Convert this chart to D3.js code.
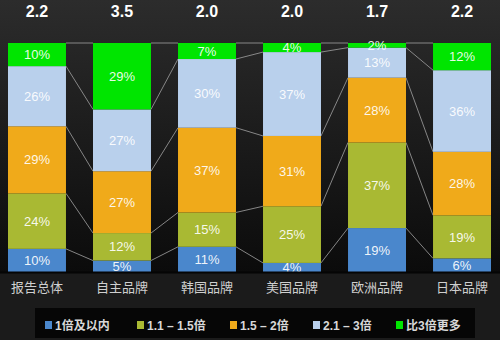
<!DOCTYPE html>
<html><head><meta charset="utf-8">
<script src="https://cdn.jsdelivr.net/npm/d3@7/dist/d3.min.js"></script>
<style>html,body{margin:0;padding:0;background:#1b1b1b}svg{display:block}</style>
</head><body><svg id="c" width="500" height="340"></svg>
<script>
const categories = ["报告总体","自主品牌","韩国品牌","美国品牌","欧洲品牌","日本品牌"];
const topLabels = ["2.2","3.5","2.0","2.0","1.7","2.2"];
const seriesNames = ["1倍及以内","1.1 – 1.5倍","1.5 – 2倍","2.1 – 3倍","比3倍更多"];
const s1 = [10,5,11,4,19,6];
const s2 = [24,12,15,25,37,19];
const s3 = [29,27,37,31,28,28];
const s4 = [26,27,30,37,13,36];
const s5 = [10,29,7,4,2,12];
const colors = ["#4a87cc","#a9b933","#f0aa1a","#b9d0ec","#00e500"];
const series = [s1,s2,s3,s4,s5];

const svg = d3.select("#c");
const defs = svg.append("defs");
const g1 = defs.append("linearGradient").attr("id","bg").attr("x1",0).attr("x2",0).attr("y1",0).attr("y2",1);
g1.append("stop").attr("offset","0%").attr("stop-color","#2c2c2c");
g1.append("stop").attr("offset","100%").attr("stop-color","#0b0b0b");
svg.append("rect").attr("width",500).attr("height",340).attr("fill","#1b1b1b");
svg.append("rect").attr("width",500).attr("height",273).attr("fill","url(#bg)");

const x = d3.scaleBand().domain(categories).range([-0.5,499.5]).paddingInner(0.318).paddingOuter(0.1);
const y = d3.scaleLinear().domain([0,100]).range([272,43]);

// stacked data normalized
const stacks = categories.map((c,i)=>{
  const vals = series.map(s=>s[i]);
  const tot = d3.sum(vals);
  let acc = 0;
  return vals.map((v,k)=>{ const y0=acc; acc+=v*100/tot; return {cat:c,k,v,y0,y1:acc}; });
});

// connecting lines
const lines = svg.append("g").attr("stroke","#9a9a9a").attr("stroke-width",1).attr("opacity",0.85);
for(let i=0;i<categories.length-1;i++){
  for(let k=0;k<series.length;k++){
    const a = stacks[i][k].y1, b = stacks[i+1][k].y1;
    lines.append("line")
      .attr("x1",x(categories[i])+x.bandwidth()).attr("y1",y(a))
      .attr("x2",x(categories[i+1])).attr("y2",y(b));
  }
}

const bars = svg.append("g");
stacks.forEach(st=>{
  st.forEach(d=>{
    bars.append("rect").attr("x",x(d.cat)).attr("width",x.bandwidth())
      .attr("y",y(d.y1)).attr("height",y(d.y0)-y(d.y1)).attr("fill",colors[d.k]);
    bars.append("text").attr("x",x(d.cat)+x.bandwidth()/2).attr("y",(y(d.y0)+y(d.y1))/2)
      .attr("dy","0.36em").attr("text-anchor","middle")
      .attr("font-family","Liberation Sans, Arial, sans-serif").attr("font-size",13)
      .attr("fill","#ffffff").attr("fill-opacity",0.92).text(d.v+"%");
  });
});

// top labels
svg.append("g").selectAll("text").data(categories).join("text")
  .attr("x",d=>x(d)+x.bandwidth()/2).attr("y",17).attr("text-anchor","middle")
  .attr("font-family","Liberation Sans, Arial, sans-serif").attr("font-weight","bold").attr("font-size",16)
  .attr("fill","#ffffff").text((d,i)=>topLabels[i]);

// category axis
const xAxis = d3.axisBottom(x).tickSize(0).tickPadding(0);
const ax = svg.append("g").attr("transform","translate(0,272)").call(xAxis);
ax.select(".domain").attr("stroke","#050505").attr("stroke-width",2);
ax.selectAll("text").attr("dy","1.55em").attr("font-size",13)
  .attr("font-family","Noto Sans CJK SC, sans-serif").attr("fill","#cfcfcf");

// legend
svg.append("rect").attr("x",35).attr("y",308).attr("width",440).attr("height",30).attr("fill","#060606");
const legX = [45,137,230,313,396];
const lg = svg.append("g");
seriesNames.forEach((n,k)=>{
  lg.append("rect").attr("x",legX[k]).attr("y",321).attr("width",7).attr("height",8).attr("fill",colors[k]);
  lg.append("text").attr("x",legX[k]+10).attr("y",330)
    .attr("font-family","Liberation Sans, Noto Sans CJK SC, sans-serif").attr("font-size",12).attr("font-weight","bold")
    .attr("fill","#d8d8d8").text(n);
});
</script></body></html>
